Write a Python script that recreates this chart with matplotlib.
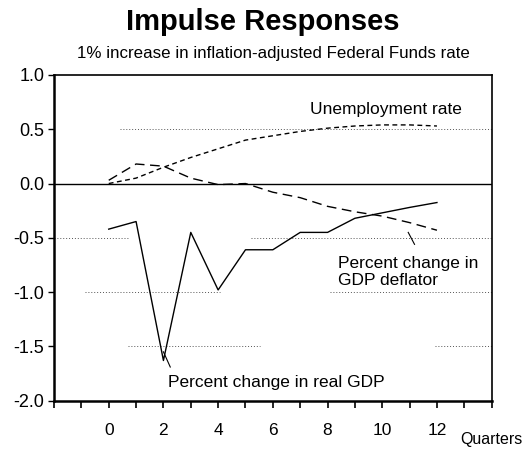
import matplotlib
matplotlib.use("Agg")
import matplotlib.pyplot as plt

plt.rcParams['font.family'] = ['Liberation Sans', 'DejaVu Sans']

quarters = list(range(0, 13))
real_gdp = [-0.42, -0.35, -1.63, -0.45, -0.98, -0.61, -0.61, -0.45, -0.45, -0.32, -0.27, -0.22, -0.175]
deflator = [0.03, 0.18, 0.16, 0.05, -0.01, 0.0, -0.08, -0.13, -0.21, -0.26, -0.30, -0.36, -0.43]
unemployment = [0.0, 0.05, 0.15, 0.24, 0.32, 0.40, 0.44, 0.48, 0.51, 0.53, 0.54, 0.54, 0.53]

y_ticks = [1.0, 0.5, 0.0, -0.5, -1.0, -1.5, -2.0]
x_labels = [0, 2, 4, 6, 8, 10, 12]

fig = plt.figure(figsize=(5.26, 4.53), dpi=100)
ax = fig.add_axes([0.1027, 0.1155, 0.832, 0.719])

# broken dotted guide lines, as in the scanned original
grid_kw = dict(color='#555555', linestyle=(0, (1, 2)), linewidth=0.7)
ax.axhline(0.5, xmin=0.15, xmax=1.0, **grid_kw)
ax.axhline(-0.5, xmin=0.0, xmax=0.17, **grid_kw)
ax.axhline(-0.5, xmin=0.45, xmax=1.0, **grid_kw)
ax.axhline(-1.0, xmin=0.07, xmax=0.38, **grid_kw)
ax.axhline(-1.0, xmin=0.63, xmax=1.0, **grid_kw)
ax.axhline(-1.5, xmin=0.17, xmax=0.47, **grid_kw)
ax.axhline(-1.5, xmin=0.87, xmax=1.0, **grid_kw)
ax.axhline(0.0, color='black', linewidth=1.0)

ax.plot(quarters, real_gdp, color='black', linewidth=1.0)
ax.plot(quarters, deflator, color='black', linewidth=1.0, linestyle=(0, (7, 4)))
ax.plot(quarters, unemployment, color='black', linewidth=1.0, linestyle=(0, (3.5, 2.5)))

ax.set_xlim(-2, 14)
ax.set_ylim(-2.0, 1.0)
ax.set_xticks(range(-2, 15))
ax.set_xticklabels([str(v) if v in x_labels else '' for v in range(-2, 15)])
ax.set_yticks(y_ticks)
ax.set_yticklabels(['%.1f' % v for v in y_ticks])
ax.tick_params(axis='x', direction='out', length=5, width=1.2, pad=11, labelsize=12.5)
ax.tick_params(axis='y', direction='out', length=4, width=1.0, pad=3, labelsize=13)

for side in ['left', 'bottom']:
    ax.spines[side].set_linewidth(1.8)
for side in ['top', 'right']:
    ax.spines[side].set_linewidth(1.2)

ax.text(10.15, 0.68, 'Unemployment rate', fontsize=12.5, ha='center', va='center')
ax.text(8.4, -0.665, 'Percent change in\nGDP deflator', fontsize=12.5, ha='left', va='top',
        linespacing=1.15)
ax.plot([10.95, 11.18], [-0.45, -0.56], color='black', linewidth=0.8)
ax.text(2.15, -1.83, 'Percent change in real GDP', fontsize=12.5, ha='left', va='center')
ax.plot([2.0, 2.25], [-1.55, -1.69], color='black', linewidth=0.8)

fig.text(0.875, 0.03, 'Quarters', fontsize=11.5, ha='left', va='center')
fig.text(0.5, 0.952, 'Impulse Responses', fontsize=21, fontweight='bold', ha='center', va='center')
fig.text(0.52, 0.881, '1% increase in inflation-adjusted Federal Funds rate', fontsize=12.2,
         ha='center', va='center')

fig.savefig('out.png', dpi=100)
